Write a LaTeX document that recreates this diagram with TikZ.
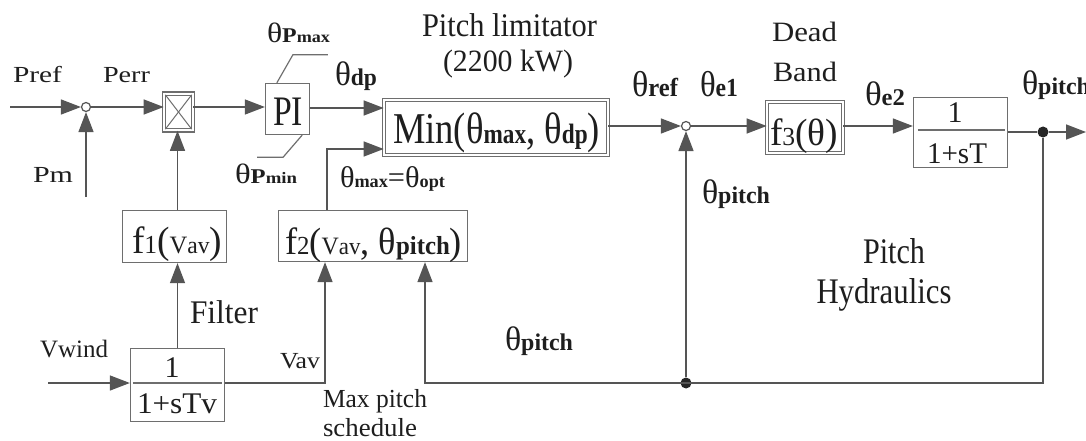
\documentclass[tikz,border=0pt]{standalone}
\usepackage{fontspec}
\setmainfont{Liberation Serif}
\usetikzlibrary{arrows.meta,calc}
\definecolor{ln}{HTML}{555555}
\definecolor{bx}{HTML}{6E6E6E}
\definecolor{tx}{HTML}{1E1E1E}
\newcommand\fs[1]{\fontsize{#1}{#1}\selectfont}
\newcommand\fitw[2]{\resizebox{#1}{\height}{#2}}
\newcommand\thl[3]{{\fs{#1}θ}{\fs{#2}\bfseries #3}}
\tikzset{
  lbl/.style={anchor=base west, inner sep=0pt, outer sep=0pt, text=tx},
  lblc/.style={anchor=base, inner sep=0pt, outer sep=0pt, text=tx},
  blk/.style={draw=bx, line width=1.3pt, inner sep=0pt},
  dblk/.style={draw=bx, double=white, double distance=2.2pt, line width=1.1pt, inner sep=0pt},
  conn/.style={draw=ln, line width=1.4pt},
  arr/.style={conn, -{Triangle[length=20pt,width=15pt]}},
  sumc/.style={circle, draw=ln, fill=white, line width=1.2pt, minimum size=9pt, inner sep=0pt},
  dotc/.style={circle, fill=black!85, minimum size=11pt, inner sep=0pt},
  thin/.style={draw=bx, line width=1.2pt}
}
\begin{document}
\begin{tikzpicture}[x=1pt,y=-1pt]
\useasboundingbox (0,0) rectangle (1086,441);
\fill[white] (0,0) rectangle (1086,441);

% blocks
\node[dblk, minimum width=28.6pt, minimum height=36.6pt] (mult) at (178.5,112) {};
\node[blk, minimum width=44pt, minimum height=51pt] (PI) at (287.5,109) {};
\node[dblk, minimum width=223.6pt, minimum height=54.6pt] (minb) at (496,127.5) {};
\node[dblk, minimum width=75.6pt, minimum height=50.6pt] (f3) at (805,127.5) {};
\node[blk, minimum width=94pt, minimum height=70pt] (hyd) at (960.5,132.5) {};
\node[blk, minimum width=94pt, minimum height=73pt] (filt) at (177.5,385) {};
\node[blk, minimum width=104pt, minimum height=52pt] (f1) at (174.5,236.5) {};
\node[blk, minimum width=189pt, minimum height=51pt] (f2) at (373,236) {};

% junctions
\node[sumc] (s1) at (86,107) {};
\node[sumc] (s2) at (686,126) {};
\node[dotc] (d1) at (1043,132) {};
\node[dotc] (d2) at (686,383) {};

% free ends and corners
\coordinate (pref) at (10,107);
\coordinate (pm) at (86,197);
\coordinate (vw) at (48,383);
\coordinate (out) at (1086,132);
\coordinate (cbr) at (1043,383);
\coordinate (cbl) at (425,383);
\coordinate (cvav) at (325,383);
\coordinate (cf2) at (327,149);

% multiplier cross
\draw[thin, line width=1pt] ($(mult.north west)+(1.7,1.7)$) -- ($(mult.south east)+(-1.7,-1.7)$);
\draw[thin, line width=1pt] ($(mult.north east)+(-1.7,1.7)$) -- ($(mult.south west)+(1.7,-1.7)$);

% fraction bars
\draw[thin] ($(hyd.west)+(5,-2.5)$) -- ($(hyd.east)+(-3,-2.5)$);
\draw[thin] ($(filt.west)+(3,-2)$) -- ($(filt.east)+(-3,-2)$);

% PI limit leaders
\draw[thin] ($(PI.north west)+(12,0)$) -- ++(16,-28) -- ++(35,0);
\draw[thin] ($(PI.south east)+(-8,0)$) -- ++(-19,22) -- ++(-26,0);

% connectors
\draw[arr] (pref) -- (s1);
\draw[arr] (pm) -- (s1);
\draw[arr] (s1) -- (s1 -| mult.west);
\draw[arr] (mult.east |- s1) -- (PI.west |- s1);
\draw[arr] (PI.east |- 0,108) -- (minb.west |- 0,108);
\draw[arr] (minb.east |- s2) -- (s2);
\draw[arr] (s2) -- (f3.west |- s2);
\draw[arr] (f3.east |- s2) -- (hyd.west |- s2);
\draw[conn] (hyd.east |- d1) -- (d1);
\draw[arr] (d1) -- (out);
\draw[arr] (d1) -- (cbr) -- (cbl) -- (f2.south -| cbl);
\draw[arr] (d2) -- (s2);
\draw[arr] (vw) -- (filt.west |- vw);
\draw[arr] (filt.east |- vw) -- (cvav) -- (f2.south -| cvav);
\draw[arr] (filt.north) -- (filt.north |- f1.south);
\draw[arr] (filt.north |- f1.north) -- (filt.north |- mult.south);
\draw[arr] (f2.north -| cf2) -- (cf2) -- (minb.west |- cf2);

% block texts
\node[lbl] (tPI) at (273,125) {\fitw{30pt}{\fs{42}PI}};
\node[lbl] (tmin) at (393,143) {\fitw{207pt}{\fs{44}Min(θ{\fs{28}\bfseries max}, θ{\fs{28}\bfseries dp})}};
\node[lbl] (tf3) at (770,146) {\fitw{68pt}{\fs{38}f{\fs{26}3}(θ)}};
\node[lblc] (th1) at (955,123) {\fs{30}1};
\node[lbl] (th2) at (927,163) {\fitw{60pt}{\fs{30}1+sT}};
\node[lblc] (tv1) at (172,377) {\fs{30}1};
\node[lbl] (tv2) at (137,413) {\fitw{80pt}{\fs{30}1+sTv}};
\node[lbl] (tf1) at (132,253) {\fitw{90pt}{\fs{38}f{\fs{26}1}({\fs{25}V}{\fs{24}av})}};
\node[lbl] (tf2) at (285,254) {\fitw{177pt}{\fs{38}f{\fs{26}2}({\fs{25}V}{\fs{24}av}, θ{\fs{26}\bfseries pitch})}};

% labels
\node[lbl] (lPref) at (13,83) {\fitw{49pt}{\fs{23}Pref}};
\node[lbl] (lPerr) at (103,83) {\fitw{47pt}{\fs{23}Perr}};
\node[lbl] (lPm) at (33,182) {\fitw{40pt}{\fs{23}Pm}};
\node[lbl] (lPmax) at (267,43) {\fitw{63pt}{{\fs{28}θ}{\fs{21}\bfseries P}{\fs{16}\bfseries max}}};
\node[lbl] (lPmin) at (235,183) {\fitw{62pt}{{\fs{28}θ}{\fs{21}\bfseries P}{\fs{16}\bfseries min}}};
\node[lbl] (ldp) at (335,86) {\fitw{42pt}{\thl{34}{24}{dp}}};
\node[lbl] (lpl1) at (422,37) {\fitw{175pt}{\fs{33}Pitch limitator}};
\node[lbl] (lpl2) at (443,72) {\fitw{130pt}{\fs{31}(2200 kW)}};
\node[lbl] (lopt) at (340,187) {\fitw{105pt}{{\fs{30}θ}{\fs{18}\bfseries max}{\fs{30}=θ}{\fs{18}\bfseries opt}}};
\node[lbl] (lref) at (632,97) {\fitw{46pt}{\thl{36}{26}{ref}}};
\node[lbl] (le1) at (700,97) {\fitw{38pt}{\thl{36}{26}{e1}}};
\node[lbl] (lpm) at (702,203) {\fitw{68pt}{\thl{34}{24}{pitch}}};
\node[lbl] (ldead) at (772,42) {\fitw{65pt}{\fs{28}Dead}};
\node[lbl] (lband) at (773,82) {\fitw{64pt}{\fs{28}Band}};
\node[lbl] (le2) at (865,106) {\fitw{40pt}{\thl{34}{24}{e2}}};
\node[lbl] (lpo) at (1022,95) {\fitw{68pt}{\thl{34}{24}{pitch}}};
\node[lblc] (lph1) at (894,263) {\fitw{62pt}{\fs{36}Pitch}};
\node[lblc] (lph2) at (884,303) {\fitw{135pt}{\fs{36}Hydraulics}};
\node[lbl] (lfil) at (190,323) {\fitw{68pt}{\fs{33}Filter}};
\node[lbl] (lvw) at (40,357) {\fitw{68pt}{\fs{25}Vwind}};
\node[lbl] (lvav) at (280,368) {\fitw{40pt}{\fs{23}Vav}};
\node[lbl] (lmax) at (323,407) {\fitw{104pt}{\fs{26}Max pitch}};
\node[lbl] (lsch) at (323,436) {\fitw{94pt}{\fs{26}schedule}};
\node[lbl] (lpb) at (505,350) {\fitw{68pt}{\thl{34}{24}{pitch}}};
\end{tikzpicture}
\end{document}
